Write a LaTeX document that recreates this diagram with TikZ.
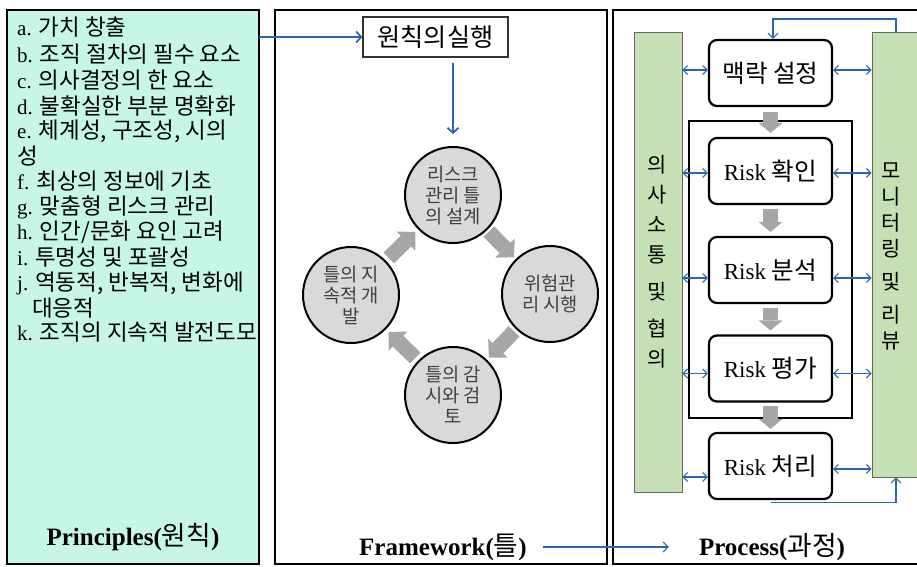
\documentclass[tikz,border=0pt]{standalone}
\usepackage{fontspec}
\setmainfont{Liberation Serif}
\newfontfamily\krfont[Scale=1.07]{Noto Sans CJK KR}
\newcommand\K[1]{{\krfont #1}}
\newcommand\KM[1]{{\krfont\mdseries #1}}
\usetikzlibrary{arrows.meta,calc}

\definecolor{mint}{RGB}{198,246,231}
\definecolor{leaf}{RGB}{197,224,180}
\definecolor{linkblue}{RGB}{43,101,170}
\definecolor{disc}{RGB}{217,217,217}
\definecolor{blockgray}{RGB}{166,166,166}
\definecolor{disctext}{RGB}{64,64,64}

\begin{document}
\begin{tikzpicture}[x=1pt,y=-1pt,
  panel/.style={draw=black,line width=2pt,inner sep=0pt,outer sep=0pt},
  listitem/.style={anchor=west,inner sep=0pt,font=\fontsize{21}{24}\selectfont},
  caption/.style={inner sep=0pt,font=\fontsize{25}{30}\selectfont\bfseries},
  cycle/.style={circle,draw=black,line width=2pt,fill=disc,minimum size=96pt,
    inner sep=0pt,align=center,text=disctext,font=\krfont\fontsize{17.5}{21}\selectfont},
  stepbox/.style={draw=black,line width=2.2pt,rounded corners=8pt,fill=white,
    minimum width=123pt,minimum height=66pt,inner sep=0pt,
    font=\fontsize{23}{26}\selectfont},
  sidebar/.style={draw=black!60,line width=0.6pt,fill=leaf,inner sep=0pt},
  bluearrow/.style={draw=linkblue,line width=1.8pt,
    -{Straight Barb[length=5pt,width=11pt]}},
  thinarrow/.style={draw=linkblue,line width=1.1pt,
    -{Straight Barb[length=5pt,width=10pt]}},
  dbl/.style={draw=linkblue,line width=1.1pt,
    {Straight Barb[length=4.5pt,width=9pt]}-{Straight Barb[length=4.5pt,width=9pt]}},
  blockarr/.style={draw=blockgray,line width=15pt,
    -{Triangle[length=13pt,width=27pt,line width=0pt]}},
  blockdn/.style={draw=blockgray,line width=15pt,
    -{Triangle[length=10pt,width=24pt,line width=0pt]}},
]
\useasboundingbox (0,0) rectangle (917,566);

% three panels
\node[panel,fill=mint,minimum width=252pt,minimum height=554pt] (p1) at (133,287) {};
\node[panel,fill=white,minimum width=332pt,minimum height=554pt] (p2) at (441,287) {};
\node[panel,fill=white,minimum width=322pt,minimum height=554pt] (p3) at (774,287) {};

% principles list
\node[listitem] (l1)  at (17,27.5) {a. \K{가치 창출}};
\node[listitem] (l2)  at (17,54)   {b. \K{조직 절차의 필수 요소}};
\node[listitem] (l3)  at (17,80)   {c. \K{의사결정의 한 요소}};
\node[listitem] (l4)  at (17,106)  {d. \K{불확실한 부분 명확화}};
\node[listitem] (l5)  at (17,131)  {e. \K{체계성, 구조성, 시의}};
\node[listitem] (l6)  at (17,156)  {\K{성}};
\node[listitem] (l7)  at (17,181)  {f. \K{최상의 정보에 기초}};
\node[listitem] (l8)  at (17,207)  {g. \K{맞춤형 리스크 관리}};
\node[listitem] (l9)  at (17,232)  {h. \K{인간/문화 요인 고려}};
\node[listitem] (l10) at (17,257)  {i. \K{투명성 및 포괄성}};
\node[listitem] (l11) at (17,283)  {j. \K{역동적, 반복적, 변화에}};
\node[listitem] (l12) at (32,308)  {\K{대응적}};
\node[listitem] (l13) at (17,332)  {k. \K{조직의 지속적 발전도모}};

\node[caption] (pl) at (133,537) {Principles(\KM{원칙})};

% framework
\node[draw=black!80,line width=1.2pt,fill=white,minimum width=145pt,minimum height=40pt,
  inner sep=0pt,font=\krfont\fontsize{23.5}{26}\selectfont] (tb) at (435.5,37) {원칙의실행};

\node[cycle] (c1) at (453,195) {리스크\\관리 틀\\의 설계};
\node[cycle] (c2) at (550,294) {위험관\\리 시행};
\node[cycle] (c3) at (453,395) {틀의 감\\시와 검\\토};
\node[cycle] (c4) at (351,295) {틀의 지\\속적 개\\발};

\draw[blockarr] ($(c1)!0.37!(c2)$) -- ($(c1)!0.63!(c2)$);
\draw[blockarr] ($(c2)!0.37!(c3)$) -- ($(c2)!0.63!(c3)$);
\draw[blockarr] ($(c3)!0.37!(c4)$) -- ($(c3)!0.63!(c4)$);
\draw[blockarr] ($(c4)!0.37!(c1)$) -- ($(c4)!0.63!(c1)$);

\draw[bluearrow] (p1.east |- tb.west) -- (tb.west);
\draw[bluearrow,shorten <=5pt,shorten >=12pt] (tb.south -| c1.north) -- (c1.north);

\node[caption] (fw) at (443,547) {Framework(\KM{틀})};

% process
\node[sidebar,minimum width=48pt,minimum height=460pt] (lb) at (658,262) {};
\node[sidebar,minimum width=48pt,minimum height=445pt] (rb) at (896,254.5) {};
\node[inner sep=0pt,align=center,font=\krfont\fontsize{19.5}{30}\selectfont] (lbt) at (657,262)
  {의\\사\\소\\통\\[7pt]및\\[7pt]협\\의};
\node[inner sep=0pt,align=center,font=\krfont\fontsize{19.5}{26}\selectfont] (rbt) at (891,256)
  {모\\니\\터\\링\\[7pt]및\\[7pt]리\\뷰};

\node[draw=black,line width=2.2pt,minimum width=163pt,minimum height=297pt,inner sep=0pt]
  (enc) at (770.5,269.5) {};

\node[stepbox] (ctx) at (770.5,73)   {\K{맥락 설정}};
\node[stepbox] (idf) at (770.5,171)  {Risk \K{확인}};
\node[stepbox] (ana) at (770.5,270)  {Risk \K{분석}};
\node[stepbox] (eva) at (770.5,368.5){Risk \K{평가}};
\node[stepbox] (trt) at (770.5,466)  {Risk \K{처리}};

\draw[blockdn] ([yshift=-5pt]ctx.south) -- ([yshift=4pt]idf.north);
\draw[blockdn] ([yshift=-4pt]idf.south) -- ([yshift=4pt]ana.north);
\draw[blockdn] ([yshift=-4pt]ana.south) -- ([yshift=4pt]eva.north);
\draw[blockdn] ([yshift=-3pt]eva.south) -- ([yshift=3pt]trt.north);

% exchanges with the side bars
\coordinate (k1) at ($(ctx.west)+(0,-3)$);
\coordinate (k2) at ($(idf.west)+(0,2)$);
\coordinate (k3) at ($(ana.west)+(0,8)$);
\coordinate (k4) at ($(eva.west)+(0,5)$);
\coordinate (k5) at ($(trt.west)+(0,11)$);
\coordinate (m1) at ($(ctx.east)+(0,-3)$);
\coordinate (m2) at ($(idf.east)+(0,2)$);
\coordinate (m3) at ($(ana.east)+(0,8)$);
\coordinate (m4) at ($(eva.east)+(0,5)$);
\coordinate (m5) at ($(trt.east)+(0,3)$);
\foreach \i in {1,...,5}{
  \draw[dbl] (lb.east |- k\i) -- (k\i);
  \draw[dbl] (m\i) -- (rb.west |- m\i);
}

% monitoring feedback loop
\coordinate (loopT) at (773,19);
\draw[thinarrow] (rb.north) |- (loopT) -- (loopT |- ctx.north);
\draw[thinarrow] ([yshift=-2pt]trt.south) -| (rb.south);

\node[caption] (pr) at (772,547) {Process(\KM{과정})};
\draw[thinarrow,shorten <=16pt,shorten >=30pt] (fw.east) -- (pr.west);
\end{tikzpicture}
\end{document}
